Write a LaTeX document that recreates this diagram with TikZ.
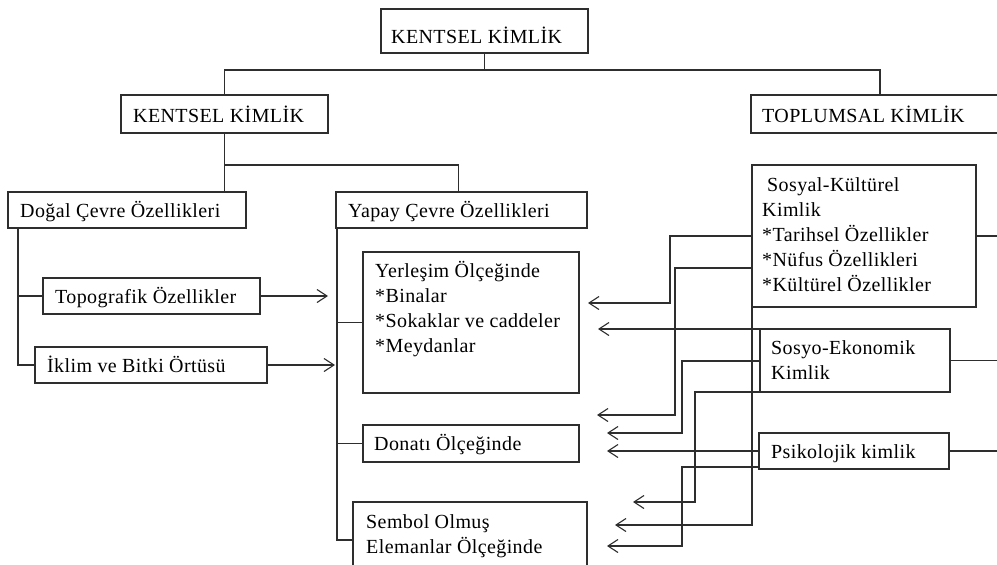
\documentclass[tikz,border=0pt]{standalone}
\usepackage{fontspec}
\setmainfont{Liberation Serif}[LetterSpace=2.0]
\usetikzlibrary{arrows.meta}

\definecolor{ink}{gray}{0.18}
\newcommand{\rows}[1]{\begin{tabular}[t]{@{}l@{}}#1\end{tabular}}

\begin{document}
\begin{tikzpicture}[x=1pt, y=-1pt,
  box/.style={draw=ink, line width=1.2pt, inner sep=0pt, outer sep=0pt, anchor=north west},
  mainbox/.style={box, line width=2.2pt},
  txt/.style={anchor=base west, inner sep=0pt, font=\fontsize{20}{25}\selectfont},
  link/.style={draw=ink, line width=1.1pt},
  arr/.style={link, -{Straight Barb[length=10pt, width=13pt, line width=1.1pt]}}
]
\clip (0,0) rectangle (997,565);
\fill[white] (0,0) rectangle (997,565);

% ---------- boxes ----------
\node[box, line width=1.4pt, minimum width=207, minimum height=44] (t0) at (381,9) {};
\node[mainbox, minimum width=207, minimum height=38] (k)  at (121,95) {};
\node[mainbox, minimum width=258, minimum height=38] (tp) at (751,95) {};

\node[box, minimum width=238, minimum height=36] (d)  at (8,192) {};
\node[box, minimum width=251, minimum height=36] (y)  at (336,192) {};
\node[box, minimum width=217, minimum height=36] (to) at (43,278) {};
\node[box, minimum width=232, minimum height=36] (ik) at (35,347) {};

\node[box, minimum width=216, minimum height=141] (ye) at (363,252) {};
\node[box, minimum width=216, minimum height=37]  (do) at (363,425) {};
\node[box, minimum width=234, minimum height=80]  (se) at (353,502) {};

\node[box, minimum width=224, minimum height=142] (sk) at (752,165) {};
\node[box, minimum width=190, minimum height=63]  (so) at (760,329) {};
\node[box, minimum width=190, minimum height=36]  (ps) at (759,433) {};

% ---------- texts ----------
\node[txt] (t0t) at (391,43)  {KENTSEL KİMLİK};
\node[txt] (kt)  at (133,122) {KENTSEL KİMLİK};
\node[txt] (tpt) at (762,122) {TOPLUMSAL KİMLİK};
\node[txt] (dt)  at (20,217)  {Doğal Çevre Özellikleri};
\node[txt] (yt)  at (348,217) {Yapay Çevre Özellikleri};
\node[txt] (tot) at (55,303)  {Topografik Özellikler};
\node[txt] (ikt) at (47,372)  {İklim ve Bitki Örtüsü};
\node[txt] (yet) at (375,277) {\rows{Yerleşim Ölçeğinde\\ {*}Binalar\\ {*}Sokaklar ve caddeler\\ {*}Meydanlar}};
\node[txt] (dot) at (374,450) {Donatı Ölçeğinde};
\node[txt] (set) at (366,528) {\rows{Sembol Olmuş\\ Elemanlar Ölçeğinde}};
\node[txt] (skt) at (762,191) {\rows{\hspace{5pt}Sosyal-Kültürel\\ Kimlik\\ {*}Tarihsel Özellikler\\ {*}Nüfus Özellikleri\\ {*}Kültürel Özellikler}};
\node[txt] (sot) at (771,354) {\rows{Sosyo-Ekonomik\\ Kimlik}};
\node[txt] (pst) at (771,458) {Psikolojik kimlik};

% ---------- tree on top ----------
\coordinate (hub) at (t0.south |- 0,70);
\draw[link] (t0.south) -- (hub);
\draw[link] (k.north) -- (k.north |- hub) -| (tp.north);

% urban identity splits into natural and built environment
\draw[link] (k.south) -- (k.south |- d.north);
\draw[link] (k.south |- 0,165) -| ([xshift=-3pt]y.north);

% natural environment branch
\coordinate (dtrunk) at ([xshift=10pt]d.south west);
\draw[link] (dtrunk) |- (ik.west);
\draw[link] (to.west) -- (to.west -| dtrunk);
\draw[arr] (to.east) -- ++(68,0);
\draw[arr] (ik.east) -- ++(68,0);

% built environment branch
\coordinate (ytrunk) at ([xshift=1pt]y.south west);
\draw[link] (ytrunk) |- ([yshift=2pt]se.west);
\draw[link] (ye.west) -- (ye.west -| ytrunk);
\draw[link] (do.west) -- (do.west -| ytrunk);

% social identity outputs
\draw[link] (sk.east) -- ++(30,0);
\draw[link] (so.east) -- ++(50,0);
\draw[link] (ps.east) -- ++(50,0);

\draw[arr] (sk.west |- 0,236) -| (670,303) -- (588,303);
\draw[arr] (sk.west |- 0,268) -| (675,415) -- (597,415);
\draw[arr] (sk.south west) -- (752,525) -- (615,525);
\draw[arr] (so.north west) -- (598,329);
\draw[arr] (so.west |- 0,361) -| (682,433) -- (607,433);
\draw[arr] (so.south west) -| (695,502) -- (633,502);
\draw[arr] (ps.west) -- (607,451);
\draw[arr] (ps.west |- 0,467) -| (682,546) -- (607,546);
\end{tikzpicture}
\end{document}
